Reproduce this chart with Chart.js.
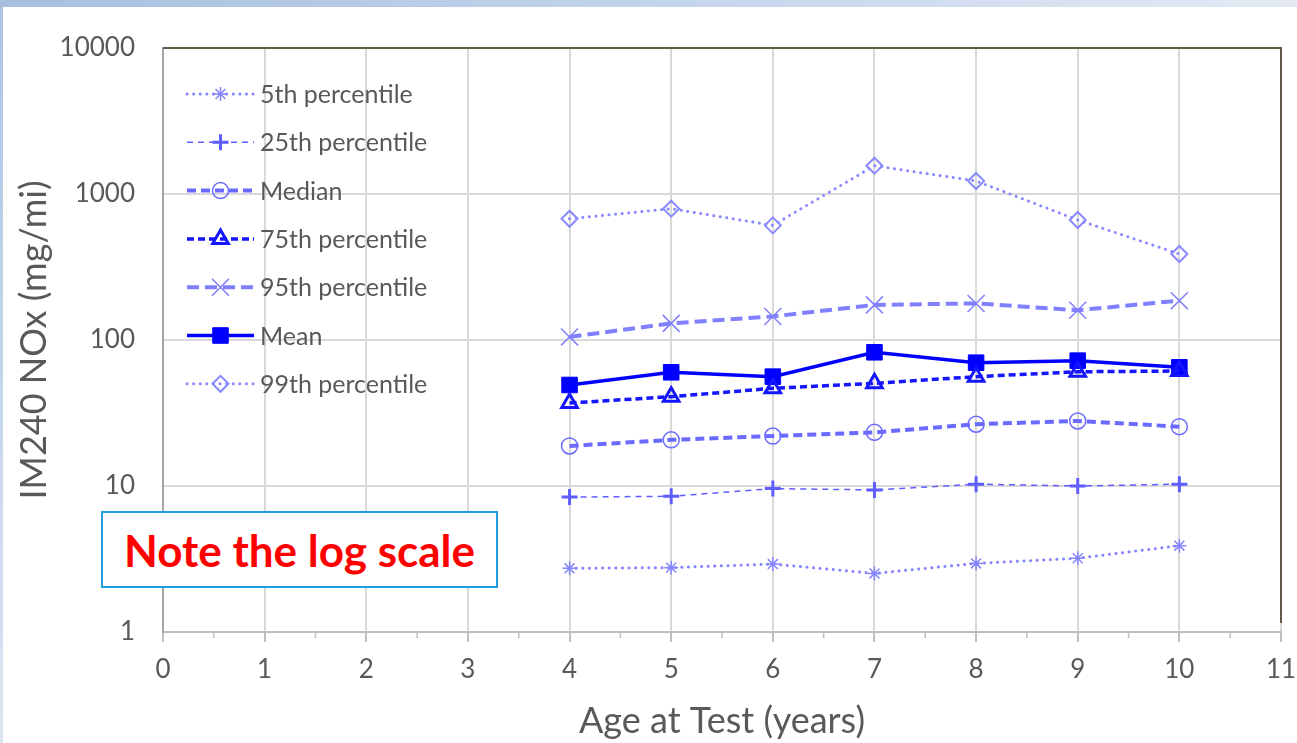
<!DOCTYPE html>
<html>
<head>
<meta charset="utf-8">
<script src="https://cdn.jsdelivr.net/npm/chart.js@4/dist/chart.umd.min.js"></script>
<style>
  html, body { margin: 0; padding: 0; background: #fff; }
  #wrap { position: relative; width: 1297px; height: 743px; overflow: hidden; background: #fff; }
  #topBand { position: absolute; left: 0; top: 0; width: 1297px; height: 7px;
             background: linear-gradient(90deg, #a7bfdf, #c9d8ec 60%, #e3eaf5); }
  #leftBand { position: absolute; left: 0; top: 7px; width: 3px; height: 736px;
              background: linear-gradient(180deg, #adc5e3, #dbe5f2); }
  #chartBox { position: absolute; left: 0; top: 0; width: 1297px; height: 743px; }
  #note { position: absolute; left: 101px; top: 511px; width: 393px; height: 73px;
          border: 2px solid #1f9fe0; background: #fff;
          font-family: Lato, sans-serif; font-weight: bold; font-size: 44px; color: #ff0000;
          display: flex; align-items: center; justify-content: center; }
</style>
</head>
<body>
<div id="wrap">
  <div id="topBand"></div>
  <div id="leftBand"></div>
  <div id="chartBox"><canvas id="chart"></canvas></div>
  <div id="note">Note the log scale</div>
</div>
<script>
// values
const ages = [4, 5, 6, 7, 8, 9, 10];
const p5 = [2.73, 2.76, 2.92, 2.52, 2.95, 3.2, 3.9];
const p25 = [8.4, 8.5, 9.6, 9.4, 10.3, 10.0, 10.3];
const median = [18.8, 20.7, 22.0, 23.3, 26.5, 27.9, 25.5];
const p75 = [37.0, 40.9, 46.7, 50.5, 56.1, 60.6, 61.3];
const p95 = [105, 130, 145, 174, 178, 160, 186];
const mean = [49.2, 60.1, 56.1, 82.4, 69.9, 72.2, 65.0];
const p99 = [677, 793, 610, 1563, 1227, 664, 388];

const xTicks = [0, 1, 2, 3, 4, 5, 6, 7, 8, 9, 10, 11];
const yTicks = [1, 10, 100, 1000, 10000];

const textGray = '#595959';

function pts(vals) {
    return ages.map((a, i) => ({x: a, y: vals[i]}));
}

function series(label, vals, color, width, dash, style, radius, markWidth) {
    return {
        label: label,
        data: pts(vals),
        borderColor: color,
        borderWidth: width,
        borderDash: dash,
        borderCapStyle: dash.length && dash[0] < 1 ? 'round' : 'butt',
        pointStyle: style,
        pointRadius: radius,
        pointBorderWidth: markWidth,
        pointBorderColor: color,
        pointBackgroundColor: style === 'rect' ? color : 'rgba(0,0,0,0)',
        fill: false,
        tension: 0
    };
}

const datasets = [
    series('5th percentile', p5, '#8585ff', 3, [0.1, 6.5], 'star', 7, 1.5),
    series('25th percentile', p25, '#5e5eff', 1.5, [6, 5], 'cross', 8, 3),
    series('Median', median, '#6a6aff', 4, [9, 5], 'circle', 8, 1.5),
    series('75th percentile', p75, '#1515ff', 3.5, [7, 4], 'triangle', 9, 3),
    series('95th percentile', p95, '#8080ff', 4, [12, 6], 'crossRot', 12, 1.5),
    series('Mean', mean, '#0000ff', 3.5, [], 'rect', 11, 1),
    series('99th percentile', p99, '#8a8aff', 3, [0.1, 6.5], 'rectRot', 8, 2)
];

// top/right frame and minor ticks on the x axis
const framePlugin = {
    id: 'frame',
    beforeDatasetsDraw(chart) {
        const {ctx, chartArea: a, scales} = chart;
        ctx.save();
        ctx.strokeStyle = '#625a44';
        ctx.lineWidth = 2;
        ctx.beginPath();
        ctx.moveTo(a.left, a.top);
        ctx.lineTo(a.right, a.top);
        ctx.lineTo(a.right, a.bottom - 9);
        ctx.stroke();
        ctx.strokeStyle = '#bfbfbf';
        ctx.lineWidth = 1.5;
        for (let i = 0; i < xTicks.length - 1; i++) {
            const x = scales.x.getPixelForValue(xTicks[i] + 0.5);
            ctx.beginPath();
            ctx.moveTo(x, a.bottom);
            ctx.lineTo(x, a.bottom + 6);
            ctx.stroke();
        }
        ctx.restore();
    }
};

// legend inside the plot, line sample with marker
const legendPlugin = {
    id: 'insideLegend',
    afterDraw(chart) {
        const ctx = chart.ctx;
        const x0 = 187, x1 = 254, tx = 260, top = 94, step = 48.3;
        ctx.save();
        chart.data.datasets.forEach((ds, i) => {
            const y = top + i * step;
            ctx.strokeStyle = ds.borderColor;
            ctx.lineWidth = ds.borderWidth;
            ctx.lineCap = ds.borderCapStyle;
            ctx.setLineDash(ds.borderDash);
            ctx.beginPath();
            ctx.moveTo(x0, y);
            ctx.lineTo(x1, y);
            ctx.stroke();
            ctx.setLineDash([]);
            ctx.lineCap = 'butt';
            ctx.strokeStyle = ds.pointBorderColor;
            ctx.fillStyle = ds.pointBackgroundColor;
            ctx.lineWidth = ds.pointBorderWidth;
            Chart.helpers.drawPoint(ctx, {
                pointStyle: ds.pointStyle,
                radius: ds.pointRadius,
                rotation: 0,
                borderWidth: ds.pointBorderWidth
            }, (x0 + x1) / 2, y);
            ctx.fillStyle = textGray;
            ctx.font = '25px Lato';
            ctx.textAlign = 'left';
            ctx.textBaseline = 'middle';
            ctx.fillText(ds.label, tx, y + 1);
        });
        ctx.restore();
    }
};

Chart.defaults.font.family = 'Lato';
Chart.defaults.color = textGray;

new Chart(document.getElementById('chart'), {
    type: 'line',
    data: {datasets: datasets},
    options: {
        responsive: true,
        maintainAspectRatio: false,
        animation: false,
        devicePixelRatio: 1,
        layout: {padding: {top: 48, right: 16, left: 0, bottom: 0}},
        plugins: {legend: {display: false}, tooltip: {enabled: false}},
        scales: {
            x: {
                type: 'linear',
                min: 0,
                max: 11,
                afterFit: s => { s.height = 111; s.paddingLeft = 0; s.paddingRight = 0; },
                afterBuildTicks: s => { s.ticks = xTicks.map(v => ({value: v})); },
                ticks: {font: {size: 26}, color: textGray, padding: 12, maxRotation: 0,
                        callback: v => String(v)},
                grid: {color: '#d9d9d9', lineWidth: 2, tickColor: '#bfbfbf', tickLength: 10},
                border: {color: '#bfbfbf', width: 2},
                title: {display: true, text: 'Age at Test (years)', font: {size: 36},
                        color: textGray, padding: {top: 0, bottom: 0}}
            },
            y: {
                type: 'logarithmic',
                min: 1,
                max: 10000,
                afterFit: s => { s.width = 163; s.paddingTop = 0; s.paddingBottom = 0; },
                afterBuildTicks: s => { s.ticks = yTicks.map(v => ({value: v, major: true})); },
                ticks: {font: {size: 26}, color: textGray, padding: 28,
                        callback: v => String(v)},
                grid: {color: '#d9d9d9', lineWidth: 2, drawTicks: false},
                border: {color: '#a6a6a6', width: 2},
                title: {display: true, text: 'IM240 NOx (mg/mi)', font: {size: 36},
                        color: textGray, padding: {top: 13, bottom: 0}}
            }
        }
    },
    plugins: [framePlugin, legendPlugin]
});
</script>
</body>
</html>
